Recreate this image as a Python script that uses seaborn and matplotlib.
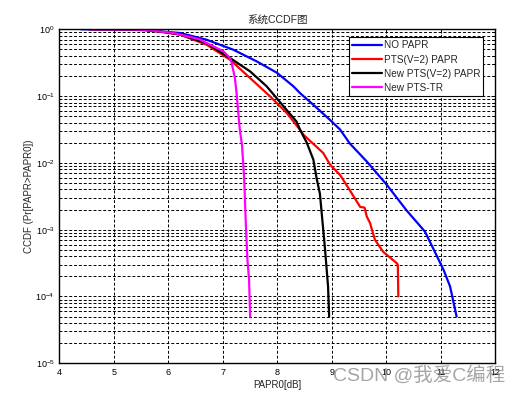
import numpy as np
import pandas as pd
import matplotlib
matplotlib.use("Agg")
import matplotlib.pyplot as plt
from matplotlib.ticker import FuncFormatter, LogLocator, FixedLocator, NullFormatter
import seaborn as sns

# ---- data ----
series_names = ["NO PAPR", "PTS(V=2) PAPR", "New PTS(V=2) PAPR", "New PTS-TR"]
series_colors = ["#0000ff", "#ff0000", "#000000", "#ff00ff"]

no_papr_x = [4.4, 5.2, 5.6, 6.21, 6.7, 7.19, 7.62, 7.99, 8.29, 8.42, 8.66, 8.97, 9.15,
             9.33, 9.64, 10.01, 10.37, 10.71, 11.05, 11.17, 11.29]
no_papr_y = [1.0, 0.993, 0.966, 0.881, 0.698, 0.495, 0.331, 0.224, 0.141, 0.110, 0.0741,
             0.0437, 0.0316, 0.0195, 0.0105, 0.00468, 0.00195, 0.000933, 0.000251,
             0.000141, 0.00005]

pts_x = [4.55, 5.3, 5.6, 5.96, 6.21, 6.7, 7.13, 7.5, 7.86, 8.17, 8.42, 8.48, 8.84, 8.97,
         9.15, 9.33, 9.52, 9.6, 9.64, 9.70, 9.79, 9.94, 10.19, 10.21, 10.22]
pts_y = [1.0, 0.993, 0.977, 0.891, 0.832, 0.589, 0.351, 0.186, 0.1, 0.0562, 0.0309,
         0.0263, 0.0141, 0.00933, 0.00661, 0.00389, 0.00219, 0.00214, 0.00158, 0.00126,
         0.000708, 0.000468, 0.000316, 0.000300, 0.0001]

new_pts_x = [4.55, 5.3, 5.6, 5.96, 6.21, 6.7, 7.13, 7.5, 7.8, 8.11, 8.35, 8.42, 8.54,
             8.66, 8.72, 8.78, 8.87, 8.93, 8.95]
new_pts_y = [1.0, 0.993, 0.977, 0.902, 0.841, 0.617, 0.372, 0.234, 0.141, 0.0708,
             0.0417, 0.0309, 0.02, 0.0112, 0.00589, 0.00347, 0.000562, 0.000141, 0.00005]

pts_tr_x = [4.55, 5.3, 5.6, 6.09, 6.57, 6.7, 7.01, 7.13, 7.16, 7.22, 7.25, 7.28, 7.31,
            7.35, 7.39, 7.42, 7.45, 7.48, 7.50]
pts_tr_y = [1.0, 0.993, 0.977, 0.881, 0.708, 0.624, 0.468, 0.372, 0.316, 0.186, 0.112,
            0.0589, 0.0316, 0.0186, 0.00589, 0.00126, 0.000355, 0.000178, 0.00005]

x_ticks = [4, 5, 6, 7, 8, 9, 10, 11, 12]
title_text = "系统CCDF图"
xlabel_text = "PAPR0[dB]"
ylabel_text = "CCDF (Pr[PAPR>PAPR0])"
watermark_text = "CSDN @我爱C编程"

# ---- style ----
sns.set_theme(style="white")
plt.rcParams["font.family"] = ["Liberation Sans", "Noto Sans CJK SC", "DejaVu Sans"]
plt.rcParams["mathtext.default"] = "regular"
plt.rcParams["axes.unicode_minus"] = False

fig = plt.figure(figsize=(5.2, 3.95), dpi=100)
ax = fig.add_axes([0.1144, 0.0803, 0.9525 - 0.1144, 0.9258 - 0.0803])

xs = [no_papr_x, pts_x, new_pts_x, pts_tr_x]
ys = [no_papr_y, pts_y, new_pts_y, pts_tr_y]
for name, col, x, y in zip(series_names, series_colors, xs, ys):
    df = pd.DataFrame({"x": x, "y": y})
    sns.lineplot(data=df, x="x", y="y", ax=ax, color=col, lw=1.6, sort=False,
                 estimator=None, label=name)

ax.set_yscale("log")
ax.set_xlim(4, 12)
ax.set_ylim(1e-5, 1)
ax.xaxis.set_major_locator(FixedLocator(x_ticks))
ax.set_xticklabels([str(t) for t in x_ticks])
ax.yaxis.set_major_locator(LogLocator(base=10, numticks=10))
ax.yaxis.set_minor_locator(LogLocator(base=10, subs=np.arange(2, 10), numticks=20))
ax.yaxis.set_major_formatter(FuncFormatter(
    lambda v, _: r"$10^{%d}$" % int(round(np.log10(v)))))
ax.yaxis.set_minor_formatter(NullFormatter())

grid_kw = dict(color="black", linestyle=(0, (3, 2)), linewidth=0.7)
ax.grid(True, which="major", axis="both", **grid_kw)
ax.grid(True, which="minor", axis="y", **grid_kw)

ax.tick_params(axis="both", which="both", direction="in", labelsize=6.5,
               colors="black", length=3, width=0.7, top=True, right=True)
ax.tick_params(axis="y", which="minor", length=2)
for s in ax.spines.values():
    s.set_color("black")
    s.set_linewidth(1.0)

ax.set_title(title_text, fontsize=7.6, pad=5)
ax.set_xlabel(xlabel_text, fontsize=7, labelpad=2)
ax.set_ylabel(ylabel_text, fontsize=7, labelpad=1)

leg = ax.legend(loc="upper right", bbox_to_anchor=(0.9725, 0.976), borderaxespad=0,
                fontsize=7.2, frameon=True, fancybox=False, framealpha=1,
                edgecolor="black", handlelength=3.0, handletextpad=0.2,
                labelspacing=0.42, borderpad=0.3)
leg.get_frame().set_linewidth(0.8)

fig.text(0.972, 0.05, watermark_text, ha="right", va="center", fontsize=14,
         color="#888888", alpha=0.75, family=["Liberation Sans", "Noto Sans CJK SC"])

fig.savefig("out.png", dpi=100, facecolor="white")
